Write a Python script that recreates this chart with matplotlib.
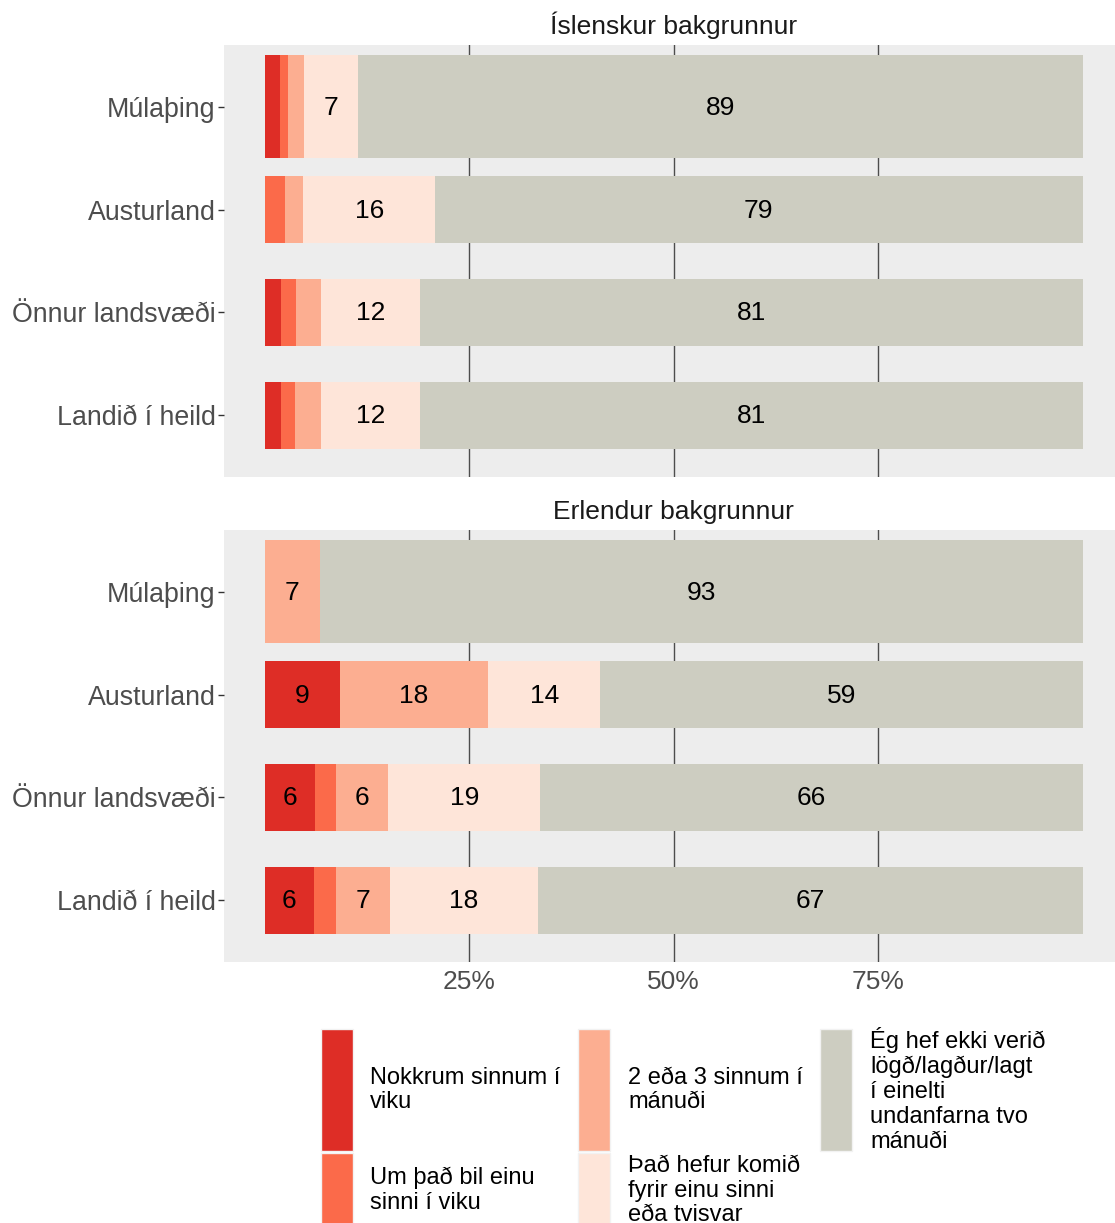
import matplotlib
matplotlib.use("Agg")
import matplotlib.pyplot as plt
from matplotlib.patches import Rectangle
import numpy as np

plt.rcParams['font.family'] = ['Liberation Sans', 'DejaVu Sans']

# data (percent)
categories = ["Múlaþing", "Austurland", "Önnur landsvæði", "Landið í heild"]
answers = [
    "Nokkrum sinnum í\nviku",
    "Um það bil einu\nsinni í viku",
    "2 eða 3 sinnum í\nmánuði",
    "Það hefur komið\nfyrir einu sinni\neða tvisvar",
    "Ég hef ekki verið\nlögð/lagður/lagt\ní einelti\nundanfarna tvo\nmánuði",
]
panel_titles = ["Íslenskur bakgrunnur", "Erlendur bakgrunnur"]

isl_nokkrum = [1.9, 0.0, 2.0, 2.0]
isl_einu_viku = [0.9, 2.4, 1.8, 1.7]
isl_2_3 = [2.0, 2.3, 3.1, 3.2]
isl_einu_tvisvar = [6.6, 16.1, 12.1, 12.1]
isl_ekki = [88.6, 79.2, 81.0, 81.0]

erl_nokkrum = [0.0, 9.2, 6.1, 6.0]
erl_einu_viku = [0.0, 0.0, 2.6, 2.7]
erl_2_3 = [6.7, 18.1, 6.4, 6.6]
erl_einu_tvisvar = [0.0, 13.7, 18.6, 18.1]
erl_ekki = [93.3, 59.0, 66.3, 66.6]

x_ticks = [25, 50, 75]
x_tick_labels = ["25%", "50%", "75%"]

colors = ["#DE2D26", "#FB6A4A", "#FCAE91", "#FEE5D9", "#CDCDC1"]

W, H = 1115, 1223
fig = plt.figure(figsize=(W / 100, H / 100), dpi=100)


def px_axes(left, top, right, bottom):
    return fig.add_axes([left / W, 1 - bottom / H, (right - left) / W, (bottom - top) / H])


panels = [
    (px_axes(224, 45, 1123.5, 477), [isl_nokkrum, isl_einu_viku, isl_2_3, isl_einu_tvisvar, isl_ekki]),
    (px_axes(224, 530, 1123.5, 962), [erl_nokkrum, erl_einu_viku, erl_2_3, erl_einu_tvisvar, erl_ekki]),
]

ypos = np.arange(len(categories))[::-1] + 1  # Múlaþing at the top
heights = [1.0, 0.65, 0.65, 0.65]

for i, (ax, series) in enumerate(panels):
    ax.set_facecolor("#EDEDED")
    for spine in ax.spines.values():
        spine.set_visible(False)
    for xt in x_ticks:
        ax.axvline(xt, color="#4D4D4D", lw=1.0, zorder=0)
    left = np.zeros(len(categories))
    for vals, col in zip(series, colors):
        vals = np.array(vals)
        ax.barh(ypos, vals, left=left, height=heights, color=col, zorder=2)
        for y, l, v in zip(ypos, left, vals):
            if v >= 5:
                ax.text(l + v / 2, y - 0.01, str(int(v + 0.5)), ha="center", va="center",
                        fontsize=19, color="black", zorder=3)
        left = left + vals
    ax.set_xlim(-5, 105)
    ax.set_ylim(0.4, 4.6)
    ax.set_yticks(ypos)
    ax.set_yticklabels(categories, fontsize=19.3, color="#4D4D4D")
    ax.tick_params(axis="y", length=4, width=1, color="#333333", pad=2)
    ax.set_xticks(x_ticks)
    if i == 1:
        ax.set_xticklabels(x_tick_labels, fontsize=19, color="#4D4D4D")
        ax.tick_params(axis="x", length=0, pad=6)
    else:
        ax.tick_params(axis="x", length=0, labelbottom=False)
    ax.set_title(panel_titles[i], fontsize=19, color="#1A1A1A", pad=8)

# legend, drawn in pixel coordinates
lax = fig.add_axes([0, 0, 1, 1])
lax.set_xlim(0, W)
lax.set_ylim(H, 0)
lax.axis("off")

legend_layout = [
    (321, 1029, 1151, 370),
    (321, 1153, 1228, 370),
    (578, 1029, 1151, 628),
    (578, 1153, 1228, 628),
    (820, 1029, 1151, 870),
]
for (kx, ktop, kbot, tx), label, col in zip(legend_layout, answers, colors):
    lax.add_patch(Rectangle((kx, ktop), 32, kbot - ktop, facecolor=col,
                            edgecolor="#F2F2F2", lw=1))
    lax.text(tx, (ktop + kbot) / 2, label, ha="left", va="center",
             fontsize=17, color="black", linespacing=1.16)

fig.savefig("out.png", dpi=100)
